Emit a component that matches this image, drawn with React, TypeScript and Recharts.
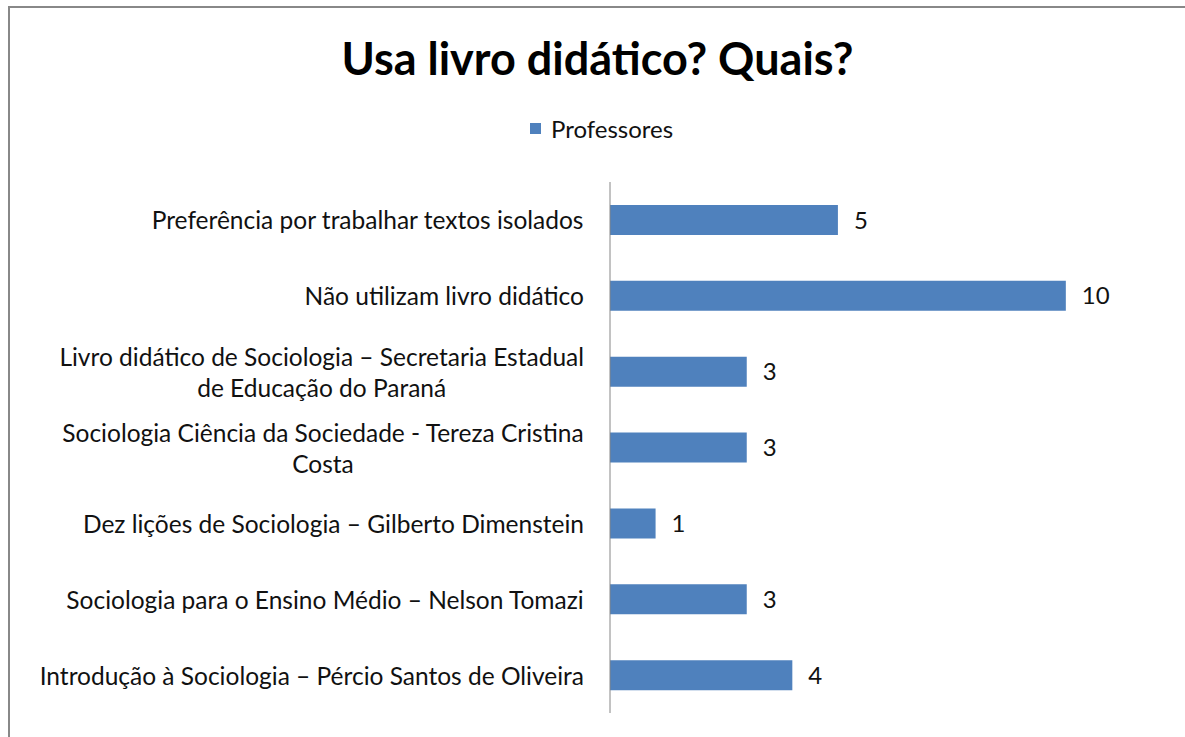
import { BarChart, Bar, XAxis, YAxis, LabelList } from 'recharts'

const categories: string[][] = [
  ['Preferência por trabalhar textos isolados'],
  ['Não utilizam livro didático'],
  ['Livro didático de Sociologia – Secretaria Estadual', 'de Educação do Paraná'],
  ['Sociologia Ciência da Sociedade - Tereza Cristina', 'Costa'],
  ['Dez lições de Sociologia – Gilberto Dimenstein'],
  ['Sociologia para o Ensino Médio – Nelson Tomazi'],
  ['Introdução à Sociologia – Pércio Santos de Oliveira'],
]
const professores = [5, 10, 3, 3, 1, 3, 4]
const seriesName = 'Professores'
const title = 'Usa livro didático? Quais?'

const FONT = 'Lato, "Open Sans", sans-serif'
const BLUE = '#4F81BD'
const LABEL_SIZE = 24.5

const data = categories.map((lines, i) => ({
  name: lines.join('\n'),
  value: professores[i],
}))

let ctx: CanvasRenderingContext2D | null = null
function textWidth(s: string, size: number) {
  if (!ctx) ctx = document.createElement('canvas').getContext('2d')
  if (!ctx) return s.length * size * 0.5
  ctx.font = `${size}px Lato`
  return ctx.measureText(s).width
}

// wrapped labels: block right-aligned to the axis, lines centred inside it
function CategoryTick(props: any) {
  const { x, y, payload } = props
  const lines: string[] = String(payload.value).split('\n')
  const right = x - 18
  const widest = Math.max(...lines.map((l) => textWidth(l, LABEL_SIZE)))
  const cx = right - widest / 2
  const lh = 31
  const y0 = y - ((lines.length - 1) * lh) / 2
  return (
    <g>
      {lines.map((l, i) => (
        <text
          key={i}
          x={cx}
          y={y0 + i * lh}
          textAnchor="middle"
          dominantBaseline="central"
          fontSize={LABEL_SIZE}
          fontFamily={FONT}
          fill="#111"
        >
          {l}
        </text>
      ))}
    </g>
  )
}

export default function App() {
  return (
    <div
      style={{
        position: 'fixed',
        left: 8,
        top: 6,
        width: 1180,
        height: 740,
        border: '2px solid #888',
        background: '#fff',
        fontFamily: FONT,
      }}
    >
      <div
        style={{
          position: 'absolute',
          left: 0,
          top: 23,
          width: 1175,
          textAlign: 'center',
          fontSize: 45,
          fontWeight: 700,
          color: '#000',
        }}
      >
        {title}
      </div>
      <div
        style={{
          position: 'absolute',
          left: 520,
          top: 106,
          display: 'flex',
          alignItems: 'center',
          fontSize: 24,
          color: '#111',
        }}
      >
        <span style={{ display: 'inline-block', width: 11, height: 11, background: BLUE, marginRight: 10 }} />
        {seriesName}
      </div>
      <BarChart
        width={1175}
        height={740}
        data={data}
        layout="vertical"
        barCategoryGap={0}
        margin={{ top: 174, right: 28, left: 0, bottom: 35 }}
      >
        <XAxis type="number" domain={[0, 12]} hide />
        <YAxis
          type="category"
          dataKey="name"
          width={600}
          axisLine={{ stroke: '#868686' }}
          tickLine={false}
          tick={<CategoryTick />}
          interval={0}
        />
        <Bar dataKey="value" fill={BLUE} barSize={30} isAnimationActive={false}>
          <LabelList
            dataKey="value"
            position="right"
            offset={16}
            fontSize={24}
            fontFamily={FONT}
            fill="#111"
          />
        </Bar>
      </BarChart>
    </div>
  )
}
